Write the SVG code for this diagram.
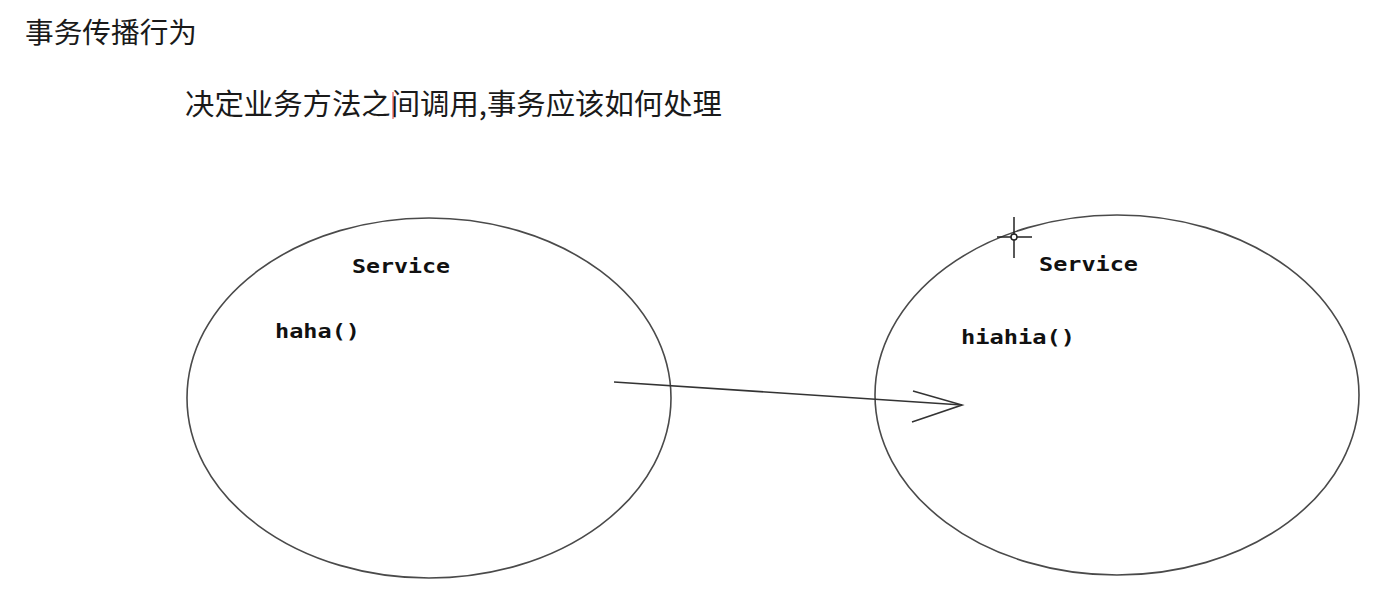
<svg xmlns="http://www.w3.org/2000/svg" width="1392" height="616" viewBox="0 0 1392 616">
<style>
.cjk{font-family:"Noto Sans CJK SC","Noto Sans",sans-serif;fill:#1a1a1a}
.mono{font-family:"DejaVu Sans Mono","Liberation Mono",monospace;font-weight:bold;fill:#111;font-size:20px}
.shape{fill:none;stroke:#4a4a4a;stroke-width:1.6}
.conn{fill:none;stroke:#333;stroke-width:1.6}
</style>
<rect width="1392" height="616" fill="#fff"/>
<g id="title">
<text class="cjk" x="25" y="43" font-size="28" textLength="172" lengthAdjust="spacingAndGlyphs">事务传播行为</text>
</g>
<g id="subtitle">
<text class="cjk" x="185" y="115" font-size="29" textLength="537" lengthAdjust="spacingAndGlyphs">决定业务方法之间调用,事务应该如何处理</text>
<line x1="393" y1="92" x2="393" y2="119" stroke="#e04040" stroke-width="1"/>
</g>
<g id="serviceA">
<ellipse class="shape" cx="429" cy="398" rx="242" ry="180"/>
<text class="mono" x="352" y="273" textLength="98" lengthAdjust="spacingAndGlyphs">Service</text>
<text class="mono" x="275" y="338" textLength="85" lengthAdjust="spacingAndGlyphs">haha()</text>
</g>
<g id="serviceB">
<ellipse class="shape" cx="1117" cy="395" rx="242" ry="180"/>
<text class="mono" x="1039" y="271" textLength="99" lengthAdjust="spacingAndGlyphs">Service</text>
<text class="mono" x="961" y="344" textLength="114" lengthAdjust="spacingAndGlyphs">hiahia()</text>
</g>
<g id="connectors">
<line class="conn" x1="614" y1="382" x2="962" y2="405"/>
<polyline class="conn" points="913,391 962,405 912,422"/>
</g>
<g id="cursor" stroke="#222" stroke-width="1.5" fill="none">
<line x1="1014" y1="217" x2="1014" y2="258"/>
<line x1="997" y1="237" x2="1032" y2="237"/>
<circle cx="1014" cy="237" r="3" fill="#fff"/>
</g>
</svg>
